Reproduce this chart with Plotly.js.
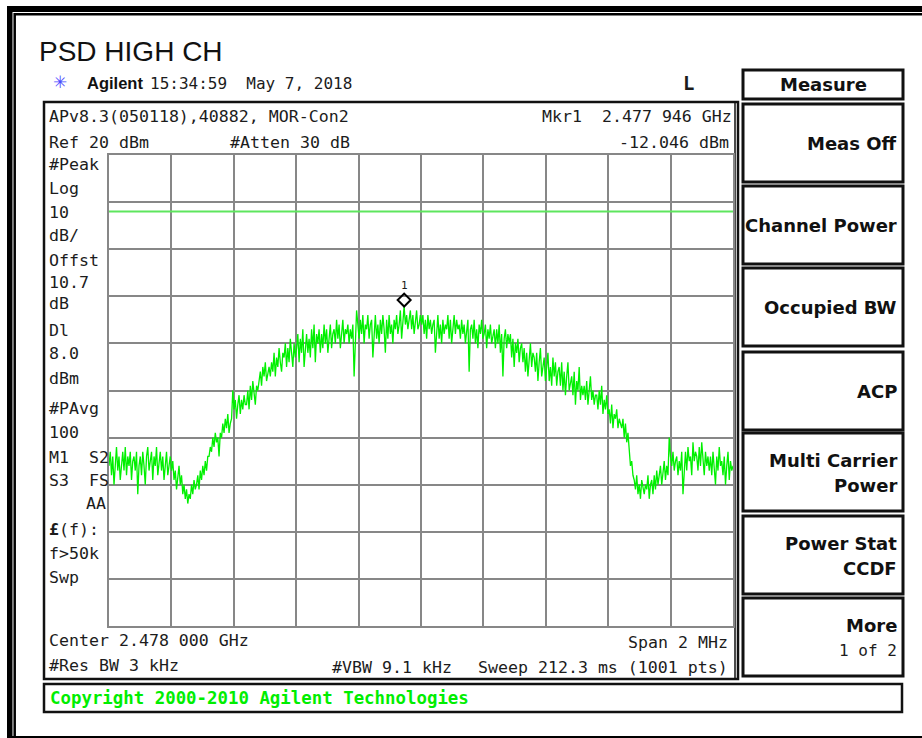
<!DOCTYPE html>
<html><head><meta charset="utf-8">
<script src="https://cdn.plot.ly/plotly-3.0.1.min.js"></script>
<style>html,body{margin:0;padding:0;background:#fff;}</style>
</head><body>
<div id="chart" style="width:922px;height:738px;"></div>
<script>
// ---------------- data ----------------
const chartTitle = "PSD HIGH CH";
const centerMHz = 2478.0;
const spanMHz = 2.0;
const refLevelDbm = 20;
const dbPerDiv = 10;
const displayLineDbm = 8.0;
const markerFreqMHz = 2477.946;
const markerDbm = -12.046;
// trace amplitude (dBm), read across the span from left to right
const traceDbm = [
 -46,-43,-48,-44,-50,-45,-42,-47,-44,-49,
 -45,-43,-47,-42,-48,-44,-46,-43,-49,-45,
 -44,-47,-43,-52,-46,-44,-48,-43,-46,-50,
 -44,-42,-47,-45,-43,-49,-44,-46,-42,-48,
 -45,-43,-47,-44,-49,-45,-43,-48,-46,-44,
 -47,-45,-49,-47,-51,-48,-46,-50,-48,-52,
 -50,-53,-51,-54,-52,-53,-50,-52,-49,-51,
 -50,-48,-51,-47,-49,-46,-48,-45,-47,-44,
 -44,-42,-43,-40,-42,-39,-41,-40,-44,-39,
 -40,-37,-39,-36,-38,-35,-39,-37,-36,-30,
 -34,-32,-36,-33,-31,-35,-32,-34,-31,-33,
 -33,-30,-34,-29,-32,-28,-31,-33,-29,-30,
 -28,-26,-29,-25,-27,-24,-28,-26,-25,-27,
 -24,-26,-22,-27,-23,-25,-21,-24,-26,-22,
 -23,-20,-25,-21,-24,-19,-22,-25,-20,-23,
 -21,-18,-24,-19,-22,-17,-25,-20,-18,-22,
 -19,-23,-17,-21,-16,-24,-18,-20,-17,-22,
 -18,-21,-16,-20,-17,-22,-19,-16,-21,-18,
 -17,-20,-15,-19,-16,-21,-18,-15,-20,-17,
 -18,-16,-20,-17,-19,-16,-27,-19,-13,-16,
 -19,-15,-18,-14,-20,-16,-17,-14,-19,-16,
 -15,-23,-17,-14,-19,-16,-20,-15,-18,-14,
 -17,-22,-15,-19,-14,-18,-16,-20,-15,-17,
 -14,-18,-16,-13,-19,-15,-12.046,-16,-14,-17,
 -15,-13,-17,-14,-18,-15,-13,-17,-16,-14,
 -16,-14,-18,-15,-19,-14,-17,-15,-18,-16,
 -15,-22,-17,-14,-19,-16,-20,-15,-18,-16,
 -17,-14,-19,-15,-20,-16,-14,-18,-15,-17,
 -16,-19,-15,-18,-16,-20,-17,-15,-26,-17,
 -16,-19,-15,-20,-17,-21,-16,-18,-15,-19,
 -18,-16,-21,-17,-19,-16,-20,-18,-17,-21,
 -17,-20,-16,-22,-18,-27,-19,-17,-21,-18,
 -20,-18,-23,-19,-25,-20,-22,-19,-24,-21,
 -20,-24,-21,-26,-22,-27,-23,-20,-25,-22,
 -23,-26,-22,-28,-24,-21,-27,-25,-23,-28,
 -24,-22,-28,-25,-29,-23,-27,-24,-29,-26,
 -25,-29,-24,-30,-26,-31,-27,-24,-30,-28,
 -27,-31,-26,-33,-28,-30,-25,-32,-29,-31,
 -29,-32,-28,-33,-30,-27,-32,-30,-33,-31,
 -31,-34,-30,-33,-29,-35,-32,-34,-31,-35,
 -34,-37,-33,-38,-35,-36,-34,-38,-36,-37,
 -38,-36,-40,-37,-41,-39,-44,-46,-45,-48,
 -49,-51,-48,-52,-50,-53,-49,-51,-52,-50,
 -51,-48,-53,-50,-49,-52,-48,-51,-47,-50,
 -48,-46,-50,-47,-45,-49,-46,-48,-40,-44,
 -46,-43,-47,-45,-44,-48,-45,-47,-43,-52,
 -46,-43,-47,-42,-45,-44,-48,-41,-45,-43,
 -44,-47,-42,-46,-41,-45,-48,-43,-46,-44,
 -47,-44,-48,-43,-46,-50,-44,-47,-42,-46,
 -45,-48,-44,-50,-46,-43,-49,-45,-47,-46
];
const headerLine1 = "APv8.3(050118),40882, MOR-Con2";
const refText = "Ref 20 dBm";
const attenText = "#Atten 30 dB";
const mkrText = "Mkr1\u00a0\u00a02.477 946 GHz";
const mkrValText = "-12.046 dBm";
const timeText = "15:34:59\u00a0\u00a0May 7, 2018";
const leftLabels = ["#Peak","Log","10","dB/","Offst","10.7","dB","Dl","8.0","dBm","#PAvg","100",
  "M1\u00a0\u00a0S2","S3\u00a0\u00a0FS","AA","<b>£</b>(f):","f>50k","Swp"];
const centerText = "Center 2.478 000 GHz";
const spanText = "Span 2 MHz";
const rbwText = "#Res BW 3 kHz";
const vbwText = "#VBW 9.1 kHz";
const sweepText = "Sweep 212.3 ms (1001 pts)";
const copyrightText = "Copyright 2000-2010 Agilent Technologies";
const menuTitle = "Measure";
const menuItems = [["Meas Off"],["Channel Power"],["Occupied BW"],["ACP"],
  ["Multi Carrier","Power"],["Power Stat","CCDF"],["More","1 of 2"]];

// ---------------- geometry helpers ----------------
const L=109, R=733, T=155, B=626;
const px = x => (x-L)/(R-L);
const py = y => (B-y)/(B-T);
const MONO = "DejaVu Sans Mono";
const INK = "#1c1c1c";

const f0 = centerMHz - spanMHz/2, f1 = centerMHz + spanMHz/2;
const freqs = traceDbm.map((_,i)=> f0 + i*spanMHz/(traceDbm.length-1));
const bottomDbm = refLevelDbm - 10*dbPerDiv;

const shapes = [];
const ann = [];
function rect(x0,y0,x1,y1,o){ shapes.push(Object.assign({type:'rect',xref:'paper',yref:'paper',
  x0:px(x0),x1:px(x1),y0:py(y1),y1:py(y0)},o)); }
function txt(x,y,text,o){ o=o||{}; ann.push({xref:'paper',yref:'paper',x:px(x),y:py(y),text:text,
  showarrow:false,xanchor:o.anchor||'left',yanchor:'middle',borderpad:0,
  font:{family:o.family||MONO,size:o.size||16.6,color:o.color||INK}}); }

// outer frame
rect(7,6,960,760,{fillcolor:'#000',line:{width:0},layer:'below'});
rect(12.5,12,960,736,{fillcolor:'#fff',line:{width:0},layer:'below'});
rect(14.7,14.2,990,790,{fillcolor:'rgba(0,0,0,0)',line:{color:'#000',width:2.5},layer:'below'});
// instrument screen
rect(44,102,738,679,{line:{color:'#111',width:2.5},layer:'below'});
shapes.push({type:'line',xref:'paper',yref:'paper',x0:px(735),x1:px(735),y0:py(679),y1:py(102),line:{color:'#111',width:1.5},layer:'below'});
// copyright box
rect(44,684,902,712,{line:{color:'#111',width:2.5},layer:'below'});
// menu
rect(743,70,903,99,{line:{color:'#111',width:3},layer:'below'});
const btnTops=[104,186,268,352,433,516,598];
btnTops.forEach(t=>rect(743,t,903,t+78,{line:{color:'#111',width:3},layer:'below'}));
// display line
shapes.push({type:'line',xref:'paper',yref:'y',x0:0,x1:1,y0:displayLineDbm,y1:displayLineDbm,
  line:{color:'#5ee65e',width:2},layer:'above'});

// texts
txt(38,51,chartTitle,{family:'Liberation Sans, Arial',size:28,color:'#111'});
txt(60,82,'✳',{family:'DejaVu Sans',size:17,color:'#4a4aff',anchor:'center'});
txt(86,83,'<b>Agilent</b>',{family:'Liberation Sans, Arial',size:16.5,color:'#111'});
txt(149,83,timeText,{size:16});
txt(688,83,'<b>L</b>',{size:19,anchor:'center'});
txt(48,116,headerLine1);
txt(48,142,refText);
txt(229,142,attenText);
txt(733,116,mkrText,{anchor:'right'});
txt(730,142,mkrValText,{anchor:'right'});
const leftY=[164,188,212,235,260,282,303,330,353,378,408,432,457,480,503,529,553,577];
leftLabels.forEach((s,k)=>{ if(s==='AA') txt(107,leftY[k],s,{anchor:'right'}); else txt(48,leftY[k],s); });
txt(48,640,centerText);
txt(729,642,spanText,{anchor:'right'});
txt(48,665,rbwText);
txt(331,667,vbwText);
txt(729,667,sweepText,{anchor:'right'});
txt(49,698,'<b>'+copyrightText+'</b>',{size:17.4,color:'#00ee00'});
txt(823,84,'<b>'+menuTitle+'</b>',{family:'DejaVu Sans',size:18,anchor:'center',color:'#111'});
menuItems.forEach((lines,k)=>{
  const t=btnTops[k], mid=t+39;
  if(lines.length===1){ txt(898,mid,'<b>'+lines[0]+'</b>',{family:'DejaVu Sans',size:18,anchor:'right',color:'#111'}); }
  else if(k===6){ txt(898,mid-12,'<b>'+lines[0]+'</b>',{family:'DejaVu Sans',size:18,anchor:'right',color:'#111'});
                  txt(898,mid+13,lines[1],{size:16,anchor:'right'}); }
  else { txt(898,mid-12,'<b>'+lines[0]+'</b>',{family:'DejaVu Sans',size:18,anchor:'right',color:'#111'});
         txt(898,mid+13,'<b>'+lines[1]+'</b>',{family:'DejaVu Sans',size:18,anchor:'right',color:'#111'}); }
});
// marker label
ann.push({xref:'x',yref:'y',x:markerFreqMHz,y:markerDbm,text:'1',showarrow:false,yshift:20,
  xanchor:'center',yanchor:'middle',font:{family:MONO,size:11,color:INK}});

const data = [
 {x:freqs,y:traceDbm,type:'scatter',mode:'lines',line:{color:'#00f000',width:1.3},hoverinfo:'skip'},
 {x:[markerFreqMHz],y:[markerDbm+1.25],type:'scatter',mode:'markers',
  marker:{symbol:'diamond-open',size:10,color:'#000',line:{width:2,color:'#000'}},hoverinfo:'skip'}
];
const axisCommon = {showgrid:true,gridcolor:'#878787',gridwidth:2,showline:true,mirror:true,
  linecolor:'#878787',linewidth:2,zeroline:false,showticklabels:false,ticks:'',fixedrange:true};
const layout = {
  width:922,height:738,showlegend:false,
  margin:{l:L,r:922-R,t:T,b:738-B,pad:0},
  paper_bgcolor:'#fff',plot_bgcolor:'#fff',
  xaxis:Object.assign({range:[f0,f1],tick0:f0,dtick:spanMHz/10},axisCommon),
  yaxis:Object.assign({range:[bottomDbm,refLevelDbm],tick0:bottomDbm,dtick:dbPerDiv},axisCommon),
  shapes:shapes,annotations:ann
};
Plotly.newPlot('chart',data,layout,{staticPlot:true,displayModeBar:false});
</script>
</body></html>
